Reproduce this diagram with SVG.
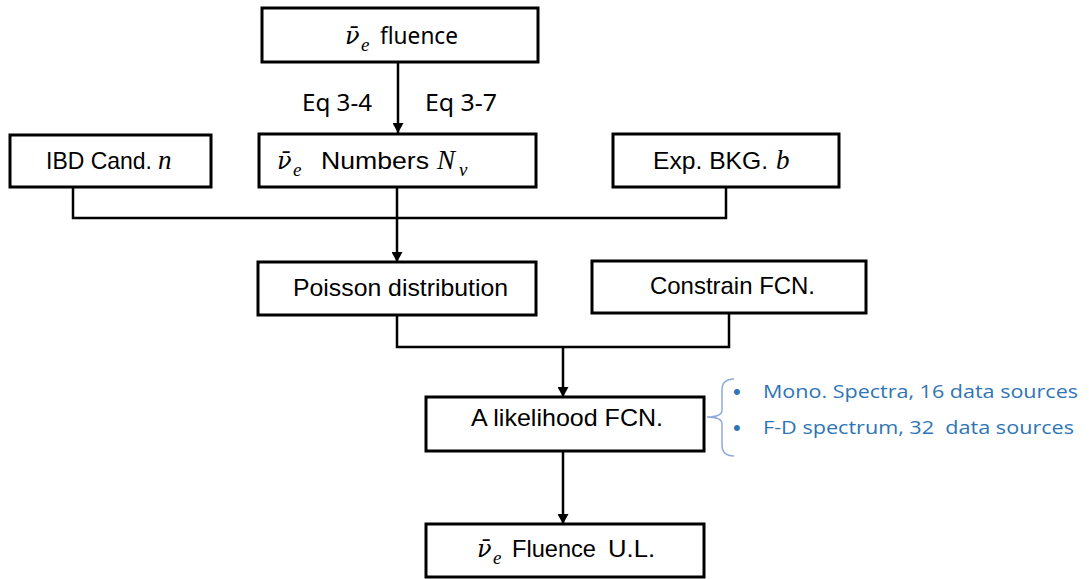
<svg xmlns="http://www.w3.org/2000/svg" width="1089" height="579" viewBox="0 0 1089 579">
  <style>
    .box { fill: #ffffff; stroke: #000000; stroke-width: 3; }
    .wire { fill: none; stroke: #000000; stroke-width: 2.5; }
    .lbl { font-family: "Liberation Sans", Arial, sans-serif; font-size: 24px; fill: #000000; }
    .eq { font-family: "Noto Sans", "Open Sans", sans-serif; font-size: 23px; fill: #000000; }
    .nu { font-family: "DejaVu Serif", "Liberation Serif", serif; font-style: italic; font-size: 24px; fill: #000000; }
    .math { font-family: "Liberation Serif", "DejaVu Serif", serif; font-style: italic; font-size: 27px; fill: #000000; }
    .sub { font-family: "Liberation Serif", "DejaVu Serif", serif; font-style: italic; font-size: 19px; fill: #000000; }
    .note { font-family: "Open Sans", "Noto Sans", sans-serif; font-size: 19px; fill: #2E75B6; }
    .dot { font-family: "Liberation Sans", Arial, sans-serif; font-size: 22px; fill: #2E75B6; }
    .brace { fill: none; stroke: #8FAADC; stroke-width: 1.5; }
  </style>
  <defs>
    <marker id="arrow" markerUnits="userSpaceOnUse" markerWidth="10" markerHeight="11" refX="10" refY="5.5" orient="auto">
      <path d="M0,0 L10,5.5 L0,11 z" fill="#000000"/>
    </marker>
  </defs>

  <!-- connectors -->
  <g id="connectors">
    <line class="wire" x1="398" y1="62" x2="398" y2="133" marker-end="url(#arrow)"/>
    <polyline class="wire" points="73,187 73,218 726,218 726,187"/>
    <line class="wire" x1="397" y1="187" x2="397" y2="262" marker-end="url(#arrow)"/>
    <polyline class="wire" points="397,315 397,347 729,347 729,313"/>
    <line class="wire" x1="563" y1="347" x2="563" y2="397" marker-end="url(#arrow)"/>
    <line class="wire" x1="563" y1="451" x2="563" y2="524" marker-end="url(#arrow)"/>
    <text class="eq" x="302" y="111" textLength="70" lengthAdjust="spacingAndGlyphs">Eq 3-4</text>
    <text class="eq" x="425" y="111" textLength="72" lengthAdjust="spacingAndGlyphs">Eq 3-7</text>
  </g>

  <!-- source fluence -->
  <g id="node-fluence">
    <rect class="box" x="262" y="8" width="276" height="54"/>
    <text class="nu" x="345" y="44">ν̄</text>
    <text class="sub" x="361" y="51">e</text>
    <text class="eq" x="380" y="44" textLength="78" lengthAdjust="spacingAndGlyphs">fluence</text>
  </g>

  <!-- IBD candidates -->
  <g id="node-ibd">
    <rect class="box" x="10" y="135" width="201" height="52"/>
    <text class="lbl" x="46" y="169" textLength="106" lengthAdjust="spacingAndGlyphs">IBD Cand.</text>
    <text class="math" x="158" y="169">n</text>
  </g>

  <!-- expected neutrino numbers -->
  <g id="node-numbers">
    <rect class="box" x="259" y="134" width="277" height="53"/>
    <text class="nu" x="277" y="169">ν̄</text>
    <text class="sub" x="293" y="176">e</text>
    <text class="lbl" x="321" y="169" textLength="108" lengthAdjust="spacingAndGlyphs">Numbers</text>
    <text class="math" x="437" y="169">N</text>
    <text class="sub" x="459" y="176">ν</text>
  </g>

  <!-- expected background -->
  <g id="node-bkg">
    <rect class="box" x="613" y="134" width="226" height="53"/>
    <text class="lbl" x="653" y="169" textLength="115" lengthAdjust="spacingAndGlyphs">Exp. BKG.</text>
    <text class="math" x="776" y="169">b</text>
  </g>

  <!-- poisson -->
  <g id="node-poisson">
    <rect class="box" x="258" y="262" width="278" height="53"/>
    <text class="lbl" x="293" y="296" textLength="215" lengthAdjust="spacingAndGlyphs">Poisson distribution</text>
  </g>

  <!-- constraint -->
  <g id="node-constrain">
    <rect class="box" x="592" y="261" width="274" height="52"/>
    <text class="lbl" x="650" y="294" textLength="165" lengthAdjust="spacingAndGlyphs">Constrain FCN.</text>
  </g>

  <!-- likelihood -->
  <g id="node-likelihood">
    <rect class="box" x="426" y="397" width="278" height="54"/>
    <text class="lbl" x="471" y="426" textLength="192" lengthAdjust="spacingAndGlyphs">A likelihood FCN.</text>
  </g>

  <!-- data-source notes -->
  <g id="notes">
    <path class="brace" d="M734,379 Q722,379 722,390 L722,410 Q722,417 707,417 Q722,417 722,424 L722,445 Q722,456 734,456"/>
    <text class="dot" x="733" y="399">•</text>
    <text class="note" x="763" y="398" textLength="315" lengthAdjust="spacingAndGlyphs">Mono. Spectra, 16 data sources</text>
    <text class="dot" x="733" y="435">•</text>
    <text class="note" x="763" y="434" textLength="311" lengthAdjust="spacingAndGlyphs" xml:space="preserve">F-D spectrum, 32  data sources</text>
  </g>

  <!-- upper limit -->
  <g id="node-limit">
    <rect class="box" x="426" y="524" width="278" height="53"/>
    <text class="nu" x="477" y="557">ν̄</text>
    <text class="sub" x="493" y="564">e</text>
    <text class="lbl" x="512" y="557" textLength="84" lengthAdjust="spacingAndGlyphs">Fluence</text>
    <text class="lbl" x="608" y="557" textLength="47" lengthAdjust="spacingAndGlyphs">U.L.</text>
  </g>
</svg>
